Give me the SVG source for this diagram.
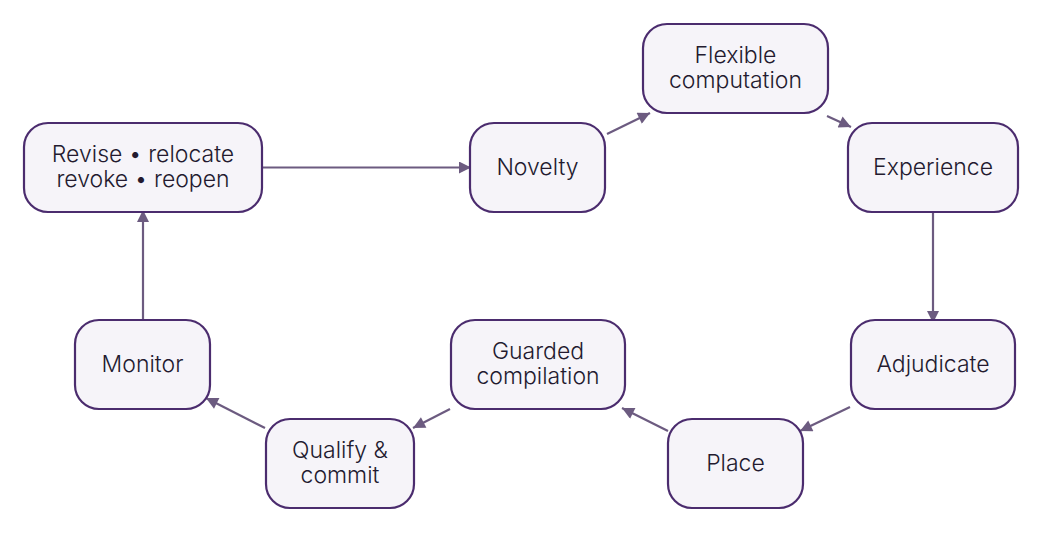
<svg xmlns="http://www.w3.org/2000/svg" width="1043" height="534" viewBox="0 0 1043 534">
<style>
.node rect{fill:#f6f4f9;stroke:#4b2c6e;stroke-width:2.2}
.node text{font-family:Inter,"Noto Sans",sans-serif;font-size:23px;font-weight:350;fill:#231a2f;text-anchor:middle}
.edges line{stroke:#6c5b80;stroke-width:2.2;fill:none}
</style>
<defs>
<marker id="ah" viewBox="0 0 10 10" refX="10" refY="5" markerWidth="16" markerHeight="12" markerUnits="userSpaceOnUse" orient="auto">
<path d="M0,0 L10,5 L0,10 z" fill="#6c5b80"/>
</marker>
</defs>
<rect width="1043" height="534" fill="#ffffff"/>
<g class="edges">
<line x1="262" y1="167.5" x2="471" y2="167.5" marker-end="url(#ah)"/>
<line x1="607" y1="134" x2="650" y2="113" marker-end="url(#ah)"/>
<line x1="827" y1="116" x2="851" y2="127" marker-end="url(#ah)"/>
<line x1="933" y1="212" x2="933" y2="323" marker-end="url(#ah)"/>
<line x1="850" y1="407" x2="800" y2="431" marker-end="url(#ah)"/>
<line x1="668" y1="431" x2="622" y2="408" marker-end="url(#ah)"/>
<line x1="450" y1="409" x2="413" y2="428" marker-end="url(#ah)"/>
<line x1="265" y1="428" x2="206" y2="398" marker-end="url(#ah)"/>
<line x1="143" y1="320" x2="143" y2="210" marker-end="url(#ah)"/>
</g>
<g id="revise" class="node"><rect x="24" y="123" width="238" height="89" rx="24"/><text x="143" y="162"><tspan x="143">Revise • relocate</tspan><tspan x="143" dy="24.5">revoke • reopen</tspan></text></g>
<g id="novelty" class="node"><rect x="470" y="123" width="135" height="89" rx="24"/><text x="537.5" y="175.2">Novelty</text></g>
<g id="flexible" class="node"><rect x="643" y="24" width="185" height="89" rx="24"/><text x="735.5" y="63"><tspan x="735.5">Flexible</tspan><tspan x="735.5" dy="24.5">computation</tspan></text></g>
<g id="experience" class="node"><rect x="848" y="123" width="170" height="89" rx="24"/><text x="933" y="175.2">Experience</text></g>
<g id="adjudicate" class="node"><rect x="851" y="320" width="164" height="89" rx="24"/><text x="933" y="372.2">Adjudicate</text></g>
<g id="place" class="node"><rect x="668" y="419" width="135" height="89" rx="24"/><text x="735.5" y="471.2">Place</text></g>
<g id="guarded" class="node"><rect x="451" y="320" width="174" height="89" rx="24"/><text x="538" y="359"><tspan x="538">Guarded</tspan><tspan x="538" dy="24.5">compilation</tspan></text></g>
<g id="qualify" class="node"><rect x="266" y="419" width="148" height="89" rx="24"/><text x="340" y="458"><tspan x="340">Qualify &amp;</tspan><tspan x="340" dy="24.5">commit</tspan></text></g>
<g id="monitor" class="node"><rect x="75" y="320" width="135" height="89" rx="24"/><text x="142.5" y="372.2">Monitor</text></g>
</svg>
